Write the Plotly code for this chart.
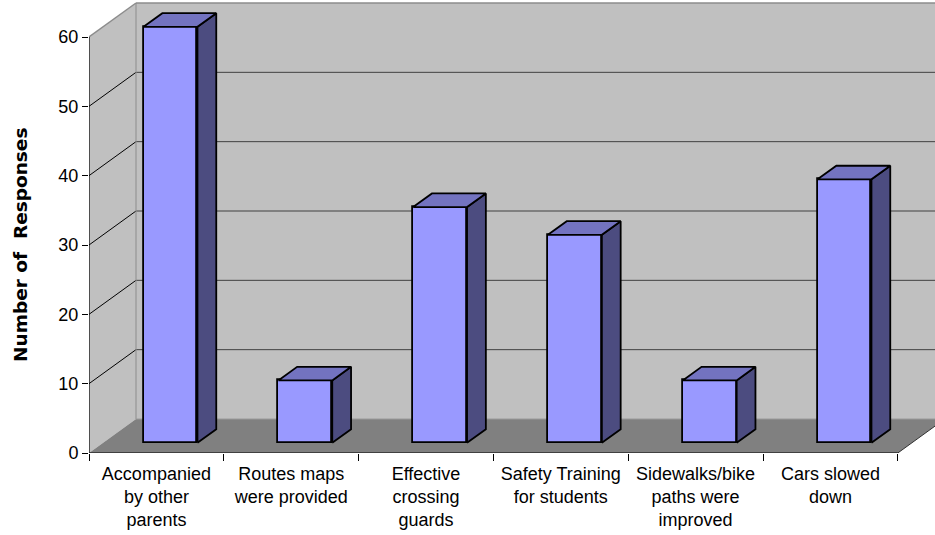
import plotly.graph_objects as go

# ---- data ----
categories = [
    "Accompanied<br>by other<br>parents",
    "Routes maps<br>were provided",
    "Effective<br>crossing<br>guards",
    "Safety Training<br>for students",
    "Sidewalks/bike<br>paths were<br>improved",
    "Cars slowed<br>down",
]
responses = [60, 9, 34, 30, 9, 38]
y_ticks = [0, 10, 20, 30, 40, 50, 60]
y_title = "Number of  Responses"

# ---- style / 3D geometry (in axis units) ----
W, H = 935, 535
ML, MR, MT, MB = 89, 0, 0, 82
PX_CAT = 134.8          # pixels per category
PX_UNIT = 416 / 60.0    # pixels per response
DX = 47 / PX_CAT        # full depth offset (x, categories)
DY = 34 / PX_UNIT       # full depth offset (y, responses)
BAR_W = 0.4
D_FRONT, D_BACK = 0.3, 0.7
YMAX = y_ticks[-1]
n = len(categories)

x_range = [0, (W - ML - MR) / PX_CAT]
y_range = [0, (H - MT - MB) / PX_UNIT]

FRONT = "#9999FF"
SIDE = "#4C4C80"
TOP = "#7373C0"
WALL = "#C0C0C0"
FLOOR = "#808080"

shapes = []
def poly(pts, fill, line_color="rgba(0,0,0,0)", lw=0):
    path = "M " + " L ".join(f"{x},{y}" for x, y in pts) + " Z"
    shapes.append(dict(type="path", path=path, xref="x", yref="y",
                       fillcolor=fill, line=dict(color=line_color, width=lw),
                       layer="below"))
def seg(x0, y0, x1, y1, color, lw=1):
    shapes.append(dict(type="line", x0=x0, y0=y0, x1=x1, y1=y1, xref="x", yref="y",
                       line=dict(color=color, width=lw), layer="below"))

right = x_range[1] + 1
# back wall
poly([(DX, DY), (right, DY), (right, YMAX + DY), (DX, YMAX + DY)], WALL)
# left wall
poly([(0, 0), (DX, DY), (DX, YMAX + DY), (0, YMAX)], WALL)
# floor
poly([(0, 0), (n, 0), (n + DX, DY), (DX, DY)], FLOOR)
# gridlines on back wall and left wall
for v in y_ticks[1:-1]:
    seg(DX, v + DY, right, v + DY, "#404040", 1)
    seg(0, v, DX, v + DY, "#000000", 1)
# wall edges
seg(DX, DY, DX, YMAX + DY, "#8C8C8C", 1)
seg(0, YMAX, DX, YMAX + DY, "#8C8C8C", 1.5)
seg(DX, YMAX + DY, right, YMAX + DY, "#8C8C8C", 1.5)
seg(DX, DY, right, DY, "#9A9A9A", 1)
seg(n, 0, n + DX, DY, "#303030", 1)
# axes lines
seg(0, 0, 0, YMAX, "#000000", 1.2)
seg(0, 0, n, 0, "#000000", 1.2)

fig = go.Figure()

centers = [i + 0.5 for i in range(n)]
fx = [c + D_FRONT * DX for c in centers]
base = D_FRONT * DY
depth = (D_BACK - D_FRONT)

fig.add_trace(go.Bar(
    x=fx, y=responses, base=[base] * n, width=BAR_W,
    marker=dict(color=FRONT, line=dict(color="black", width=1.8)),
    hoverinfo="skip", showlegend=False,
))

side_x, side_y, top_x, top_y = [], [], [], []
for c, v in zip(fx, responses):
    xl, xr = c - BAR_W / 2, c + BAR_W / 2
    yb, yt = base, base + v
    ox, oy = depth * DX, depth * DY
    side_x += [xr, xr + ox, xr + ox, xr, xr, None]
    side_y += [yb, yb + oy, yt + oy, yt, yb, None]
    top_x += [xl, xr, xr + ox, xl + ox, xl, None]
    top_y += [yt, yt, yt + oy, yt + oy, yt, None]

fig.add_trace(go.Scatter(x=side_x, y=side_y, mode="lines", fill="toself",
                         fillcolor=SIDE, line=dict(color="black", width=1.8),
                         hoverinfo="skip", showlegend=False))
fig.add_trace(go.Scatter(x=top_x, y=top_y, mode="lines", fill="toself",
                         fillcolor=TOP, line=dict(color="black", width=1.8),
                         hoverinfo="skip", showlegend=False))

fig.update_layout(
    width=W, height=H,
    margin=dict(l=ML, r=MR, t=MT, b=MB, pad=0),
    paper_bgcolor="white", plot_bgcolor="white",
    shapes=shapes,
    bargap=0,
    xaxis=dict(range=x_range, showgrid=False, zeroline=False, showline=False,
               tickvals=centers, ticktext=categories,
               ticks="outside", ticklen=4, tickcolor="rgba(0,0,0,0)",
               tickfont=dict(family="Liberation Sans, Arial", size=18, color="black"),
               minor=dict(tickvals=list(range(n + 1)), ticks="outside", ticklen=7,
                          tickcolor="black", tickwidth=1, showgrid=False),
               fixedrange=True),
    yaxis=dict(range=y_range, showgrid=False, zeroline=False, showline=False,
               tickvals=y_ticks, ticks="outside", ticklen=6, tickcolor="black",
               tickwidth=1,
               tickfont=dict(family="Liberation Sans, Arial", size=18, color="black"),
               fixedrange=True),
    annotations=[dict(text=f"<b>{y_title}</b>", xref="paper", yref="y",
                      x=0, y=YMAX / 2, xshift=-69, textangle=-90,
                      showarrow=False, xanchor="center", yanchor="middle",
                      font=dict(family="DejaVu Sans", size=18.5, color="black"))],
)

fig.write_html("out.html")
